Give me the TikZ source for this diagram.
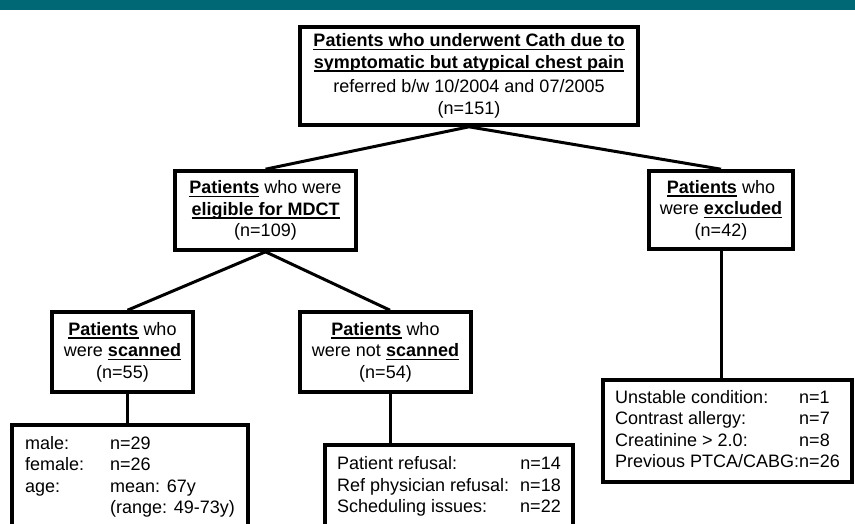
\documentclass[tikz,border=0pt]{standalone}
\usepackage{fontspec}
\setmainfont{Liberation Sans}
\definecolor{headteal}{RGB}{0,104,116}
\newsavebox\ulbox
\newcommand{\ulb}[1]{\sbox\ulbox{\textbf{#1}}\rlap{\rule[-3.5pt]{\wd\ulbox}{1.5pt}}\usebox\ulbox}
\begin{document}
\begin{tikzpicture}[x=1pt,y=-1pt,
  box/.style={draw=black, line width=3.6pt, align=center, inner sep=0pt,
    font=\fontsize{18}{21.5}\selectfont},
  conn/.style={draw=black, line width=3pt}]
\useasboundingbox (0,0) rectangle (855,523);
\clip (0,0) rectangle (855,523);
\fill[headteal] (0,0) rectangle (855,10);

\node[box, minimum width=338pt, minimum height=98pt] (top) at (469,76)
  {\ulb{Patients who underwent Cath due to}\\
   \ulb{symptomatic but atypical chest pain}\\[3pt]
   referred b/w 10/2004 and 07/2005\\
   (n=151)};

\node[box, minimum width=181pt, minimum height=79pt] (elig) at (265.5,210.5)
  {\ulb{Patients} who were\\ \ulb{eligible for MDCT}\\ (n=109)};

\node[box, minimum width=144pt, minimum height=78pt] (excl) at (721,210)
  {\ulb{Patients} who\\ were \ulb{excluded}\\ (n=42)};

\node[box, minimum width=141pt, minimum height=80pt] (scan) at (122.5,352)
  {\ulb{Patients} who\\ were \ulb{scanned}\\ (n=55)};

\node[box, minimum width=171pt, minimum height=80pt] (noscan) at (385.5,352)
  {\ulb{Patients} who\\ were not \ulb{scanned}\\ (n=54)};

\node[box, minimum width=236pt, minimum height=104pt] (male) at (130,477)
  {\begin{tabular}{@{}p{85pt}@{}l@{}}
   male: & n=29\\
   female: & n=26\\
   age: & mean: 67y\\
        & (range: 49-73y)
   \end{tabular}};

\node[box, minimum width=248pt, minimum height=84pt] (refus) at (449,487)
  {\begin{tabular}{@{}l@{\hspace{11pt}}l@{}}
   Patient refusal: & n=14\\
   Ref physician refusal: & n=18\\
   Scheduling issues: & n=22
   \end{tabular}};

\node[box, minimum width=249pt, minimum height=102pt] (unst) at (727.5,431)
  {\begin{tabular}{@{}l@{}l@{}}
   Unstable condition: & n=1\\
   Contrast allergy: & n=7\\
   Creatinine > 2.0: & n=8\\
   Previous PTCA/CABG: & n=26
   \end{tabular}};

\coordinate (scanS) at ([xshift=4.5pt]scan.south);
\coordinate (scanN) at ([xshift=5pt]scan.north);
\coordinate (noscanS) at ([xshift=4.5pt]noscan.south);
\coordinate (noscanN) at ([xshift=4.5pt]noscan.north);

\draw[conn] (top.south) -- (elig.north);
\draw[conn] (top.south) -- (excl.north);
\draw[conn] (elig.south) -- (scanN);
\draw[conn] (elig.south) -- (noscanN);
\draw[conn] (scanS) -- (scanS |- male.north);
\draw[conn] (noscanS) -- (noscanS |- refus.north);
\draw[conn] (excl.south) -- (excl.south |- unst.north);
\end{tikzpicture}
\end{document}
